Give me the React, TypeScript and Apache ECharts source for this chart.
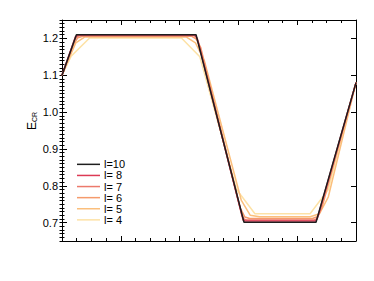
import React, { useEffect, useRef } from "react";
import * as echarts from "echarts";

const seriesNames = ["l=10", "l= 8", "l= 7", "l= 6", "l= 5", "l= 4"];
const seriesColors = ["#1e1e1e", "#dc3a55", "#ec7a6c", "#f59b6c", "#fbbf7c", "#fde2a6"];

const dataL10: [number, number][] = [
  [0, 1.1], [0.245, 1.21], [2.28, 1.21], [3.095, 0.701], [4.32, 0.701], [5, 1.08],
];
const dataL8: [number, number][] = [
  [0, 1.1], [0.23, 1.205], [0.27, 1.209], [2.26, 1.209], [2.3, 1.2], [3.08, 0.707],
  [3.11, 0.704], [4.31, 0.704], [4.34, 0.71], [5, 1.08],
];
const dataL7: [number, number][] = [
  [0, 1.1], [0.22, 1.198], [0.26, 1.205], [0.3, 1.208], [2.24, 1.208], [2.28, 1.204],
  [2.32, 1.19], [3.06, 0.72], [3.1, 0.709], [3.14, 0.707], [4.29, 0.707], [4.33, 0.71],
  [4.37, 0.722], [5, 1.08],
];
const dataL6: [number, number][] = [
  [0, 1.1], [0.2, 1.185], [0.27, 1.202], [0.35, 1.206], [2.2, 1.206], [2.28, 1.199],
  [2.36, 1.175], [3.03, 0.74], [3.11, 0.715], [3.19, 0.711], [4.26, 0.711], [4.34, 0.716],
  [4.42, 0.74], [5, 1.08],
];
const dataL5: [number, number][] = [
  [0, 1.1], [0.078, 1.13], [0.234, 1.188], [0.39, 1.204], [2.11, 1.204], [2.27, 1.188],
  [2.42, 1.14], [3.05, 0.76], [3.2, 0.72], [3.36, 0.716], [4.22, 0.716], [4.38, 0.724],
  [4.53, 0.77], [5, 1.08],
];
const dataL4: [number, number][] = [
  [0, 1.1], [0.156, 1.152], [0.469, 1.201], [2.031, 1.201], [2.344, 1.15], [2.656, 0.97],
  [2.969, 0.79], [3.281, 0.724], [4.219, 0.724], [4.531, 0.79], [4.844, 0.99], [5, 1.08],
];
const allData = [dataL10, dataL8, dataL7, dataL6, dataL5, dataL4];

const yMajorTicks = [0.7, 0.8, 0.9, 1.0, 1.1, 1.2];

export default function App() {
  const ref = useRef<HTMLDivElement>(null);
  useEffect(() => {
    if (!ref.current) return;
    const chart = echarts.init(ref.current, undefined, { renderer: "svg" });
    const font = "Liberation Sans";
    const majorY = (pos: "left" | "right", labels: boolean) => ({
      type: "value",
      position: pos,
      min: 0.65,
      max: 1.25,
      axisLine: { show: true, onZero: false, lineStyle: { color: "#000", width: 1 } },
      axisTick: { show: true, inside: true, length: 5, customValues: yMajorTicks, lineStyle: { color: "#000" } },
      axisLabel: {
        show: labels,
        customValues: yMajorTicks,
        formatter: (v: number) => v.toFixed(1),
        fontSize: 11,
        color: "#000",
        fontFamily: font,
        margin: 4,
      },
      splitLine: { show: false },
    });
    const minorY = (pos: "left" | "right") => ({
      type: "value",
      position: pos,
      min: 0.65,
      max: 1.25,
      interval: 0.01,
      axisLine: { show: false },
      axisTick: { show: true, inside: true, length: 2.5, lineStyle: { color: "#000" } },
      axisLabel: { show: false },
      splitLine: { show: false },
    });
    const xAx = (pos: "bottom" | "top") => ({
      type: "value",
      position: pos,
      min: 0,
      max: 5,
      interval: 1,
      axisLine: { show: true, onZero: false, lineStyle: { color: "#000", width: 1 } },
      axisTick: { show: true, inside: true, length: 5, lineStyle: { color: "#000" } },
      minorTick: { show: true, splitNumber: 4, length: 3, lineStyle: { color: "#000" } },
      axisLabel: { show: false },
      splitLine: { show: false },
      minorSplitLine: { show: false },
    });
    const order = [5, 4, 3, 2, 1, 0];
    chart.setOption({
      animation: false,
      backgroundColor: "#fff",
      grid: { left: 62, right: 18, top: 20, bottom: 40, containLabel: false },
      xAxis: [xAx("bottom"), xAx("top")],
      yAxis: [majorY("left", true), minorY("left"), majorY("right", false), minorY("right")],
      legend: {
        data: seriesNames,
        orient: "vertical",
        left: 77,
        top: 158.8,
        padding: 0,
        icon: "rect",
        itemWidth: 23,
        itemHeight: 1.5,
        itemGap: 0,
        textStyle: { fontSize: 11, lineHeight: 11.1, color: "#000", fontFamily: font, padding: [0, 0, 0, -1] },
      },
      graphic: [
        {
          type: "text",
          x: 31,
          y: 121,
          rotation: Math.PI / 2,
          style: {
            text: "{a|E}{b|CR}",
            align: "center",
            verticalAlign: "middle",
            rich: {
              a: { fontSize: 12, fontFamily: font, fill: "#000", lineHeight: 14, verticalAlign: "bottom" },
              b: { fontSize: 7, fontFamily: font, fill: "#000", lineHeight: 14, verticalAlign: "bottom", padding: [0, 0, 0, 0] },
            },
          },
        },
      ],
      series: order.map((i) => ({
        name: seriesNames[i],
        type: "line",
        data: allData[i],
        color: seriesColors[i],
        showSymbol: false,
        symbol: "none",
        lineStyle: { width: 1.5, color: seriesColors[i] },
        xAxisIndex: 0,
        yAxisIndex: 0,
        z: 2 + (5 - i),
      })),
    });
    return () => chart.dispose();
  }, []);
  return (
    <div
      ref={ref}
      style={{ position: "fixed", left: 0, top: 0, width: 374, height: 281, background: "#fff" }}
    />
  );
}
